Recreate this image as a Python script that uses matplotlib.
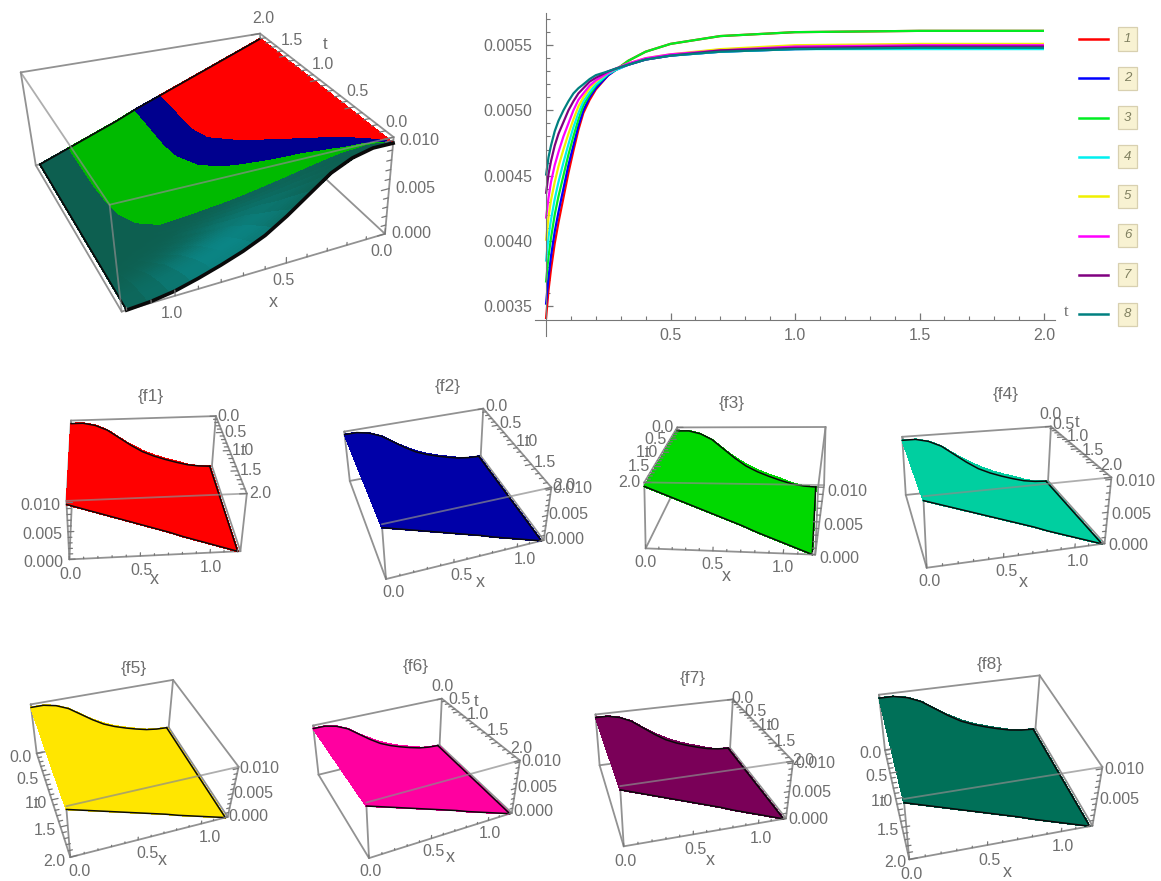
import numpy as np
import matplotlib
matplotlib.use("Agg")
import matplotlib.pyplot as plt
from matplotlib.lines import Line2D
from matplotlib.transforms import IdentityTransform
from mpl_toolkits.mplot3d import Axes3D, proj3d

W, H = 1161, 881
plt.rcParams['font.family'] = ['Liberation Sans', 'DejaVu Sans']
GREY = '#6e6e6e'
EDGE = '#8c8c8c'

# ---------- data ----------
T_LINE = [0, .01, .02, .035, .05, .07, .09, .11, .13, .15, .175, .2, .25, .28, .33, .4, .5, .7, 1, 1.5, 2]
F1_LINE = [.00340, .00362, .00378, .00398, .00414, .00433, .00452, .00469, .00485, .00498, .00508, .00516, .00527, .00531, .00538, .00545, .00551, .00557, .00560, .00561, .00561]
F2_LINE = [.00351, .00372, .00388, .00407, .00422, .00440, .00458, .00473, .00488, .00500, .00510, .00517, .00527, .00531, .00535, .00539, .00542, .00545, .00547, .00548, .00548]
F3_LINE = [.00368, .00388, .00402, .00420, .00434, .00450, .00466, .00480, .00493, .00504, .00512, .00519, .00528, .00531, .00538, .00545, .00551, .00557, .00560, .00561, .00561]
F4_LINE = [.00384, .00403, .00416, .00432, .00445, .00460, .00474, .00487, .00498, .00507, .00514, .00520, .00528, .00531, .00535, .00539, .00542, .00545, .00547, .00547, .00547]
F5_LINE = [.00400, .00418, .00431, .00445, .00457, .00470, .00482, .00493, .00503, .00510, .00517, .00522, .00529, .00532, .00536, .00540, .00543, .00547, .00550, .00551, .00551]
F6_LINE = [.00417, .00433, .00445, .00458, .00468, .00480, .00490, .00500, .00508, .00513, .00519, .00523, .00529, .00532, .00536, .00540, .00543, .00546, .00549, .00550, .00550]
F7_LINE = [.00436, .00451, .00461, .00473, .00482, .00491, .00500, .00507, .00513, .00517, .00522, .00525, .00530, .00532, .00535, .00539, .00542, .00546, .00548, .00549, .00549]
F8_LINE = [.00450, .00464, .00473, .00484, .00492, .00500, .00507, .00513, .00517, .00520, .00524, .00527, .00530, .00532, .00535, .00539, .00542, .00545, .00547, .00548, .00548]
LINE_SERIES = [F1_LINE, F2_LINE, F3_LINE, F4_LINE, F5_LINE, F6_LINE, F7_LINE, F8_LINE]
LINE_COLORS = ['#ff0000', '#0000ff', '#00ee22', '#00f0f0', '#f0f000', '#ff00ff', '#800080', '#008080']
LEGEND_LABELS = ['1', '2', '3', '4', '5', '6', '7', '8']
Y_TICKS = [.0035, .0040, .0045, .0050, .0055]
T_TICKS = [.5, 1.0, 1.5, 2.0]

X_GRID = [0, .1, .2, .3, .4, .5, .6, .7, .8, .9, 1.0, 1.1, 1.2]
T_ROWS = [0, .05, .1, .2, .4, .7, 2]
Z_T000 = [.0097, .0097, .0092, .0082, .0066, .0050, .0036, .0026, .0018, .0011, .0005, .00015, 0]
Z_T005 = [.0097, .0095, .0090, .0081, .0068, .0054, .0041, .0031, .0023, .0016, .0009, .0004, 0]
Z_T010 = [.0097, .0093, .0087, .0078, .0068, .0056, .0044, .0034, .0026, .0019, .0011, .0005, 0]
Z_T020 = [.0097, .0091, .0084, .0075, .0066, .0056, .0047, .0037, .0029, .0021, .0014, .0007, 0]
Z_T040 = [.0097, .0090, .0082, .0074, .0065, .0057, .0048, .0040, .0031, .0023, .0015, .0008, 0]
Z_T070 = [.0097, .0089, .0081, .0073, .0065, .0057, .0049, .0041, .0032, .0024, .0016, .0008, 0]
Z_T200 = [.0097, .0089, .0081, .0073, .0065, .0057, .0049, .0041, .0032, .0024, .0016, .0008, 0]
Z_TABLE = np.array([Z_T000, Z_T005, Z_T010, Z_T020, Z_T040, Z_T070, Z_T200])

# where the top surface changes colour, x as a function of t (combined plot)
T_BOUND = [0, .2, .4, .55, .7, .9, 1.15, 1.35, 2]
X_RED_END = [0, .08, .17, .25, .33, .44, .54, .565, .57]
X_BLUE_END = [0, .16, .30, .43, .55, .65, .70, .71, .71]
X_GREEN_END = [0, .27, .68, .92, 1.0, 1.04, 1.055, 1.06, 1.06]

X_TICK_LABELS = [0.0, 0.5, 1.0]
T_TICK_LABELS = [0.0, 0.5, 1.0, 1.5, 2.0]
Z_TICK_LABELS = [0.000, 0.005, 0.010]
X_MAX, T_MAX, Z_MAX = 1.22, 2.0, .0103


# ---------- 3D axes whose camera is fitted to the box corners ----------
class PinnedAxes3D(Axes3D):
    name = 'pinned3d'
    corners = None
    depth_sign = 1.0

    def apply_aspect(self, position=None):
        pass

    def get_proj(self):
        dp = []
        uv = []
        inv = self.transData.inverted()
        for (xi, ti, zi), (px, py) in self.corners.items():
            dp.append((xi, ti, zi))
            uv.append(inv.transform((px, H - py)))
        n = np.array(dp, float)
        uv = np.array(uv)
        S = np.diag([1 / X_MAX, 1 / T_MAX, 1 / Z_MAX, 1.0])
        A = []
        for (a, b, c), (u, v) in zip(n, uv):
            A.append([a, b, c, 1, 0, 0, 0, 0, -u * a, -u * b, -u * c, -u])
            A.append([0, 0, 0, 0, a, b, c, 1, -v * a, -v * b, -v * c, -v])
        _, _, vt = np.linalg.svd(np.array(A))
        P = vt[-1].reshape(3, 4)
        if (P[2] @ np.array([.5, .5, .5, 1])) < 0:
            P = -P
        d = np.array([.13, self.depth_sign, -.5, .7]) * P[2, 3]
        return np.vstack([P[0], P[1], d, P[2]]) @ S


def corner_map(c000, cx00, c0t0, cxt0, c00z, cx0z, c0tz, cxtz):
    return {(0, 0, 0): c000, (1, 0, 0): cx00, (0, 1, 0): c0t0, (1, 1, 0): cxt0,
            (0, 0, 1): c00z, (1, 0, 1): cx0z, (0, 1, 1): c0tz, (1, 1, 1): cxtz}


def z_on(xs, t):
    row = [np.interp(t, T_ROWS, Z_TABLE[:, j]) for j in range(len(X_GRID))]
    return np.interp(xs, X_GRID, row)


def new_panel(corners, depth_sign):
    pts = np.array(list(corners.values()), float)
    l, r = pts[:, 0].min() - 8, pts[:, 0].max() + 8
    t, b = pts[:, 1].min() - 8, pts[:, 1].max() + 8
    ax = fig.add_axes([l / W, 1 - b / H, (r - l) / W, (b - t) / H],
                      axes_class=PinnedAxes3D, computed_zorder=False)
    ax.corners = corners
    ax.depth_sign = depth_sign
    ax.set_proj_type('ortho')
    ax.set_xticks([])
    ax.set_yticks([])
    ax.set_zticks([])
    ax.set_axis_off()
    ax.patch.set_alpha(0)
    return ax


def seg(ax, a, b, color=EDGE, lw=1.3, zorder=1, alpha=1.0):
    ax.plot([a[0], b[0]], [a[1], b[1]], [a[2], b[2]], color=color, lw=lw,
            zorder=zorder, alpha=alpha, solid_capstyle='round', clip_on=False)


def label(ax, x, t, z, s, off, size=11.5, **kw):
    u, v, _ = proj3d.proj_transform(x, t, z, ax.get_proj())
    px, py = ax.transData.transform((u, v))
    ax.text2D(px + off[0], py - off[1], s, transform=IdentityTransform(), ha='center', va='center',
              color=GREY, fontsize=size, zorder=20, **kw)


def draw_box(ax, near_edges):
    xs, ts, zs = (0, X_MAX), (0, T_MAX), (0, Z_MAX)
    for t in ts:
        for z in zs:
            ze = 5 if ('x', t, z) in near_edges else 1
            seg(ax, (0, t, z), (X_MAX, t, z), zorder=ze, alpha=.7 if ze == 5 else .95)
    for x in xs:
        for z in zs:
            ze = 5 if ('t', x, z) in near_edges else 1
            seg(ax, (x, 0, z), (x, T_MAX, z), zorder=ze, alpha=.7 if ze == 5 else .95)
    for x in xs:
        for t in ts:
            ze = 5 if ('z', x, t) in near_edges else 1
            seg(ax, (x, t, 0), (x, t, Z_MAX), zorder=ze, alpha=.7 if ze == 5 else .95)


def draw_ticks(ax, cfg):
    xt, xz = cfg['x_edge']
    for i in range(13):
        v = i / 10
        h = .0006 if i % 5 == 0 else .0003
        seg(ax, (v, xt, xz), (v, xt, xz + h), lw=.9, color='#777777', zorder=6)
    tx, tz = cfg['t_edge']
    sgn = 1 if tx == 0 else -1
    for i in range(21):
        v = i / 10
        h = .05 if i % 5 == 0 else .03
        seg(ax, (tx, v, tz), (tx + sgn * h, v, tz), lw=.9, color='#777777', zorder=6)
    zx, zt = cfg['z_edge']
    sgn = 1 if zx == 0 else -1
    for i in range(11):
        v = i / 1000
        h = .04 if i % 5 == 0 else .025
        seg(ax, (zx, zt, v), (zx + sgn * h, zt, v), lw=.9, color='#777777', zorder=6)


def draw_labels(ax, cfg):
    xt, xz = cfg['x_edge']
    for v in X_TICK_LABELS:
        label(ax, v, xt, xz, f'{v:.1f}', cfg['x_off'])
    label(ax, .6, xt, xz, 'x', cfg['xlab_off'], size=13)
    tx, tz = cfg['t_edge']
    for v in T_TICK_LABELS:
        label(ax, tx, v, tz, f'{v:.1f}', cfg['t_off'])
    tl = cfg['tlab']
    label(ax, tx, tl[0], tz, 't', tl[1], size=12)
    zx, zt = cfg['z_edge']
    for v in cfg.get('z_ticks', Z_TICK_LABELS):
        label(ax, zx, zt, v, f'{v:.3f}', cfg['z_off'])


def surf(ax, X, T, Z, zorder=3, color=None, facecolors=None):
    kw = dict(rstride=1, cstride=1, shade=False, zorder=zorder, antialiased=False, linewidth=.7)
    if facecolors is not None:
        ax.plot_surface(X, T, Z, facecolors=facecolors, **kw)
    else:
        ax.plot_surface(X, T, Z, color=color, edgecolor=color, **kw)


def outline(ax, lw=1.1, t0_lw=None):
    xg = np.array(X_GRID)
    ax.plot(xg, 0 * xg, Z_TABLE[0], color='#0a0a0a', lw=t0_lw or lw, zorder=4)
    ax.plot(xg, 0 * xg + 2, Z_TABLE[-1], color='#0a0a0a', lw=lw, zorder=4)
    ts = np.array(T_ROWS)
    ax.plot(0 * ts + 1.2, ts, 0 * ts, color='#0a0a0a', lw=lw, zorder=4)


fig = plt.figure(figsize=(W / 100, H / 100), dpi=100, facecolor='white')

# ---------- combined surface (top left) ----------
top = corner_map((387, 233), (118, 310), (262, 122), (35, 163),
                 (392, 135), (113, 210), (258, 32), (22, 72))
ax0 = new_panel(top, -1.0)
draw_box(ax0, {('x', 0, Z_MAX), ('t', X_MAX, Z_MAX), ('z', X_MAX, 0)})
t_mesh = np.unique(np.concatenate([np.linspace(0, .6, 40), np.linspace(.6, 2, 24)]))
b_red = np.interp(t_mesh, T_BOUND, X_RED_END)
b_blue = np.interp(t_mesh, T_BOUND, X_BLUE_END)
b_green = np.interp(t_mesh, T_BOUND, X_GREEN_END)
b_zero = 0 * t_mesh
b_end = 0 * t_mesh + 1.2
regions = [(b_zero, b_red, '#ff0000'), (b_red, b_blue, '#00008e'), (b_blue, b_green, '#00ba00'),
           (b_green, b_end, None)]
for lo, hi, col in regions:
    frac = np.linspace(0, 1, 14)
    X = lo[:, None] + (hi - lo)[:, None] * frac[None, :]
    T = np.repeat(t_mesh[:, None], len(frac), axis=1)
    Z = np.array([z_on(X[i], t_mesh[i]) for i in range(len(t_mesh))])
    if col:
        surf(ax0, X, T, Z, color=col)
    else:
        base = np.array(matplotlib.colors.to_rgba('#0d5f50'))
        bright = np.array(matplotlib.colors.to_rgba('#0b8585'))
        g = np.exp(-((T - .08) / .2) ** 2) * np.exp(-((X - .72) / .32) ** 2)
        surf(ax0, X, T, Z, facecolors=base + (bright - base) * g[..., None])
outline(ax0, lw=1.3, t0_lw=2.6)
cfg0 = dict(x_edge=(0, 0), t_edge=(0, Z_MAX), z_edge=(0, 0),
            x_off=(-3, 18), xlab_off=(8, 33), t_off=(3, -15), tlab=(1.0, (5, -35)), z_off=(26, 0))
draw_ticks(ax0, cfg0)
draw_labels(ax0, cfg0)

# ---------- eight single surfaces ----------
PANELS = [
    dict(title='{f1}', tpos=(151, 397), color='#ff0000',
         c=corner_map((73, 472), (212, 465), (70, 559), (240, 552), (71, 420), (216, 417), (66, 501), (247, 493)),
         x_edge=(T_MAX, 0), t_edge=(X_MAX, Z_MAX), z_edge=(0, T_MAX),
         x_off=(1, 15), xlab_off=(0, 24), t_off=(13, 0), tlab=(1.0, (13, 0)), z_off=(-26, 3)),
    dict(title='{f2}', tpos=(448, 386), color='#0000a8',
         c=corner_map((350, 480), (481, 457), (385, 579), (544, 540), (344, 432), (483, 408), (383, 525), (551, 487)),
         x_edge=(T_MAX, 0), t_edge=(X_MAX, Z_MAX), z_edge=(X_MAX, T_MAX),
         x_off=(8, 13), xlab_off=(13, 23), t_off=(13, -2), tlab=(1.0, (13, -2)), z_off=(21, -1)),
    dict(title='{f3}', tpos=(732, 403), color='#00d800',
         c=corner_map((672, 493), (819, 482), (647, 544), (819, 555), (684, 423), (823, 428), (641, 482), (822, 490)),
         x_edge=(T_MAX, 0), t_edge=(0, Z_MAX), z_edge=(X_MAX, T_MAX),
         x_off=(0, 14), xlab_off=(0, 25), t_off=(-15, 0), tlab=(1.0, (-15, 0)), z_off=(24, 4)),
    dict(title='{f4}', tpos=(1006, 394), color='#00cfa0',
         c=corner_map((906, 494), (1048, 482), (926, 568), (1105, 543), (902, 437), (1051, 426), (924, 497), (1111, 477)),
         x_edge=(T_MAX, 0), t_edge=(X_MAX, Z_MAX), z_edge=(X_MAX, T_MAX),
         x_off=(3, 14), xlab_off=(5, 27), t_off=(0, -12), tlab=(.5, (14, -14)), z_off=(24, 2)),
    dict(title='{f5}', tpos=(134, 668), color='#ffe600',
         c=corner_map((37, 753), (170, 727), (70, 858), (226, 817), (30, 705), (172, 680), (67, 805), (240, 767)),
         x_edge=(T_MAX, 0), t_edge=(0, 0), z_edge=(X_MAX, T_MAX),
         x_off=(9, 14), xlab_off=(11, 24), t_off=(-16, 4), tlab=(1.0, (-16, 4)), z_off=(21, 0)),
    dict(title='{f6}', tpos=(416, 667), color='#ff00a0',
         c=corner_map((318, 773), (440, 746), (370, 859), (511, 813), (313, 727), (442, 698), (366, 802), (520, 760)),
         x_edge=(T_MAX, 0), t_edge=(X_MAX, Z_MAX), z_edge=(X_MAX, T_MAX),
         x_off=(2, 13), xlab_off=(7, 23), t_off=(1, -12), tlab=(.5, (18, -10)), z_off=(22, -1)),
    dict(title='{f7}', tpos=(693, 678), color='#7a0058',
         c=corner_map((600, 765), (731, 748), (623, 847), (785, 818), (595, 715), (732, 699), (621, 785), (794, 762)),
         x_edge=(T_MAX, 0), t_edge=(X_MAX, Z_MAX), z_edge=(X_MAX, T_MAX),
         x_off=(2, 15), xlab_off=(4, 28), t_off=(10, -1), tlab=(1.0, (10, -1)), z_off=(22, 1)),
    dict(title='{f8}', tpos=(990, 665), color='#007058',
         c=corner_map((885, 750), (1036, 729), (909, 860), (1092, 825), (879, 695), (1039, 675), (904, 798), (1103, 768)),
         x_edge=(T_MAX, 0), t_edge=(0, 0), z_edge=(X_MAX, T_MAX), z_ticks=[.005, .010],
         x_off=(2, 15), xlab_off=(5, 30), t_off=(-14, 3), tlab=(1.0, (-14, 3)), z_off=(22, 1)),
]
for p in PANELS:
    ax = new_panel(p['c'], 1.0)
    draw_box(ax, {('x', T_MAX, Z_MAX)})
    X, T = np.meshgrid(X_GRID, T_ROWS)
    surf(ax, X, T, Z_TABLE, color=p['color'])
    outline(ax)
    draw_ticks(ax, p)
    draw_labels(ax, p)
    fig.text(p['tpos'][0] / W, 1 - p['tpos'][1] / H, p['title'], ha='center', va='center',
             color=GREY, fontsize=12.5)

# ---------- line plot ----------
L, R, Top, Bot = 535, 1055, 13, 336
ax2 = fig.add_axes([L / W, 1 - Bot / H, (R - L) / W, (Bot - Top) / H])
ppx = 249.0
ax2.set_xlim(-(546 - L) / ppx, (R - 546) / ppx)
py = .0005 / 65.2
ax2.set_ylim(.0035 - (Bot - 306) * py, .0035 + (306 - Top) * py)
for vals, col in zip(LINE_SERIES, LINE_COLORS):
    ax2.plot(T_LINE, vals, color=col, lw=1.6, solid_capstyle='butt')
ax2.patch.set_alpha(0)
for s in ('top', 'right'):
    ax2.spines[s].set_visible(False)
ax2.spines['left'].set_position(('data', 0))
ax2.spines['bottom'].set_position(('data', .0035 - 14 * py))
ax2.spines['left'].set_color('#777777')
ax2.spines['bottom'].set_color('#777777')
ax2.set_xticks(T_TICKS, [f'{v:.1f}' for v in T_TICKS])
ax2.set_yticks(Y_TICKS, [f'{v:.4f}' for v in Y_TICKS])
ax2.set_xticks(np.arange(.1, 2.01, .1), minor=True)
ax2.set_yticks(np.arange(.0035, .00571, .0001), minor=True)
ax2.tick_params(which='major', direction='in', length=5, width=.9, color='#777777',
                labelcolor=GREY, labelsize=11.5)
ax2.tick_params(which='minor', direction='in', length=3, width=.8, color='#777777')
ax2.tick_params(axis='x', which='major', pad=6)
ax2.tick_params(axis='y', which='major', pad=10)
fig.text(1066 / W, 1 - 312 / H, 't', color=GREY, fontsize=12, family='Liberation Serif',
         ha='center', va='center')

# ---------- legend ----------
for i, (lab, col) in enumerate(zip(LEGEND_LABELS, LINE_COLORS)):
    yy = 39 + i * 39.3
    fig.add_artist(Line2D([1079 / W, 1108 / W], [1 - yy / H] * 2, color=col, lw=1.8,
                          transform=fig.transFigure))
    fig.text(1127.5 / W, 1 - yy / H, lab, ha='center', va='center', fontsize=9.5, style='italic',
             color='#808060', bbox=dict(boxstyle='square,pad=0.42', fc='#f8f2d2', ec='#d8d0b0', lw=.9))

fig.savefig('out.png', dpi=100, facecolor='white')
